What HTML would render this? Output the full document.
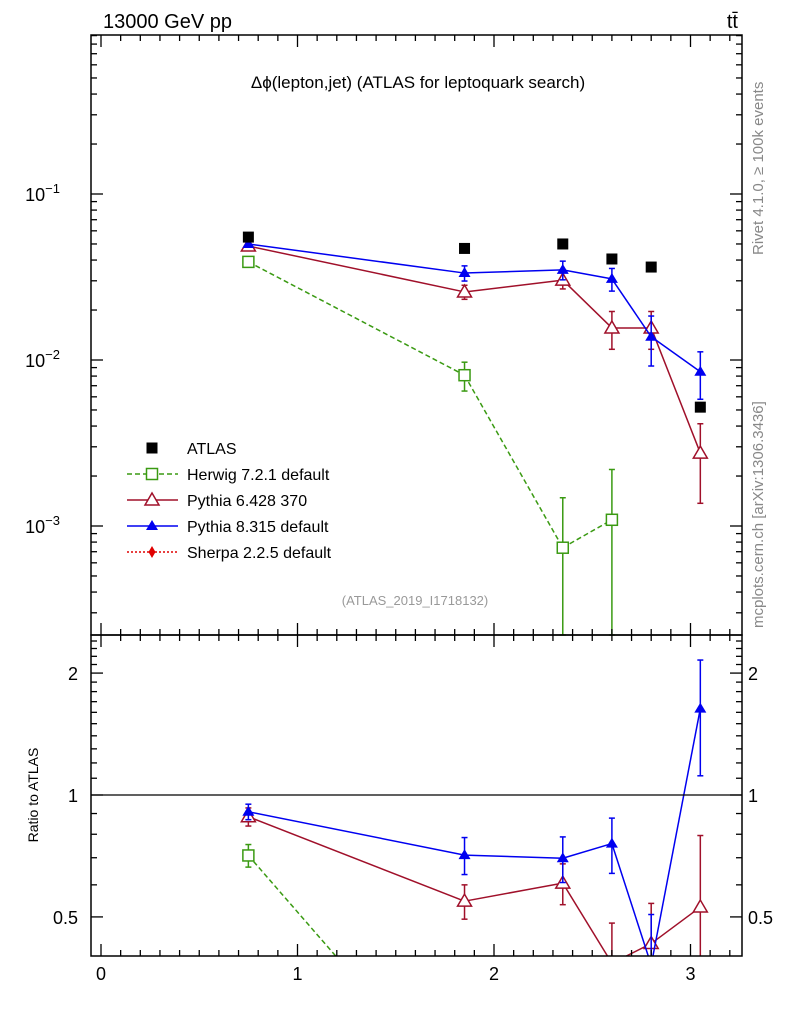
<!DOCTYPE html>
<html><head><meta charset="utf-8">
<style>
html,body{margin:0;background:#fff;overflow:hidden;width:786px;height:1024px;}
svg{display:block;font-family:"Liberation Sans",sans-serif;}
</style></head>
<body>
<svg id="chart" width="786" height="1024" viewBox="0 0 786 1024" xmlns="http://www.w3.org/2000/svg">
<text x="103" y="28" font-size="20">13000 GeV pp</text>
<text x="738" y="28" font-size="20" text-anchor="end">tt̄</text>
<text x="418" y="88" font-size="17" text-anchor="middle">Δϕ(lepton,jet) (ATLAS for leptoquark search)</text>
<text x="415" y="605" font-size="13" fill="#999" text-anchor="middle">(ATLAS_2019_I1718132)</text>
<text transform="translate(763,255) rotate(-90)" font-size="15" fill="#888">Rivet 4.1.0, ≥ 100k events</text>
<text transform="translate(763,628) rotate(-90)" font-size="15" fill="#888">mcplots.cern.ch [arXiv:1306.3436]</text>
<text transform="translate(38,795) rotate(-90)" font-size="14" text-anchor="middle">Ratio to ATLAS</text>
<g id="main"></g>
<g id="ratio"></g>
<g id="legend"></g>
</svg>
<script>
const xs = [0.75, 1.85, 2.35, 2.6, 2.8, 3.05];
const atlas = [0.055, 0.047, 0.050, 0.0406, 0.0363, 0.0052];
const herwigX = [0.75, 1.85, 2.35, 2.6];
const herwig = [0.039, 0.0081, 0.00074, 0.00109];
const herwigErr = [0.0025, 0.0016, 0.00074, 0.0011];
const py6 = [0.0486, 0.0257, 0.0303, 0.0156, 0.0156, 0.00275];
const py6Err = [0.0025, 0.0025, 0.0035, 0.004, 0.004, 0.00138];
const py8 = [0.050, 0.0334, 0.0349, 0.0308, 0.0138, 0.0085];
const py8Err = [0.0022, 0.0035, 0.0045, 0.0048, 0.0046, 0.0027];
const xTicks = [0, 1, 2, 3];
const yTicks = [-3, -2, -1];
const rTicks = [0.5, 1, 2];

const NS = "http://www.w3.org/2000/svg";
const L = 91, R = 742, T = 35, M = 635, B = 956;
const X = v => 101 + v * 196.5;
const Y = v => 194 - (Math.log10(v) + 1) * 166;
const RY = v => 795 - Math.log10(v) * 405;
function mk(parent, tag, attrs) {
  const e = document.createElementNS(NS, tag);
  for (const k in attrs) e.setAttribute(k, attrs[k]);
  parent.appendChild(e); return e;
}
const main = document.getElementById('main');
const ratio = document.getElementById('ratio');
const gm = mk(main, 'g', {});
const gr = mk(ratio, 'g', {});

function frame(g, y0, y1, name) {
  const f = mk(g, 'rect', {x: L, y: y0, width: R - L, height: y1 - y0, fill: 'none', stroke: '#000', 'stroke-width': 1.5});
  
  
  for (let i = 0; i <= 32; i++) {
    const v = i / 10, x = X(v), big = i % 10 === 0, h = big ? 12 : 6;
    if (x > R) break;
    mk(g, 'line', {x1: x, x2: x, y1: y1, y2: y1 - h, stroke: '#000', 'stroke-width': 1.3});
    mk(g, 'line', {x1: x, x2: x, y1: y0, y2: y0 + h, stroke: '#000', 'stroke-width': 1.3});
  }
}
frame(main, T, M, 'main-frame');
frame(ratio, M, B, 'ratio-frame');
for (let d = -4; d <= 0; d++) for (let m = 1; m <= 9; m++) {
  const v = m * Math.pow(10, d), y = Y(v);
  if (y < T || y > M) continue;
  const h = m === 1 ? 12 : 6;
  mk(main, 'line', {x1: L, x2: L + h, y1: y, y2: y, stroke: '#000', 'stroke-width': 1.3});
  mk(main, 'line', {x1: R, x2: R - h, y1: y, y2: y, stroke: '#000', 'stroke-width': 1.3});
}
yTicks.forEach(p => {
  const t = mk(main, 'text', {x: 60, y: Y(Math.pow(10, p)) + 7, 'font-size': 18, 'text-anchor': 'end'});
  
  
  t.textContent = '10';
  const s = mk(t, 'tspan', {dy: -8, 'font-size': 13}); s.textContent = '−' + (-p);
});
[0.4,0.5,0.6,0.7,0.8,0.9,1,1.1,1.2,1.3,1.4,1.5,1.6,1.7,1.8,1.9,2,2.1,2.2,2.3,2.4].forEach(v => {
  const y = RY(v); if (y < M || y > B) return;
  const h = rTicks.includes(v) ? 12 : 6;
  mk(ratio, 'line', {x1: L, x2: L + h, y1: y, y2: y, stroke: '#000', 'stroke-width': 1.3});
  mk(ratio, 'line', {x1: R, x2: R - h, y1: y, y2: y, stroke: '#000', 'stroke-width': 1.3});
});
rTicks.forEach(v => {
  for (const [x, a] of [[78, 'end'], [748, 'start']]) {
    const t = mk(ratio, 'text', {x: x, y: RY(v) + 7, 'font-size': 18, 'text-anchor': a});
    
    
    t.textContent = String(v);
  }
});
xTicks.forEach(v => {
  const t = mk(ratio, 'text', {x: X(v), y: 980, 'font-size': 18, 'text-anchor': 'middle'});
  
  
  t.textContent = String(v);
});
mk(ratio, 'line', {x1: L, x2: R, y1: RY(1), y2: RY(1), stroke: '#000', 'stroke-width': 1.2});

function marker(g, type, x, y, col) {
  if (type === 'sq') return mk(g, 'rect', {x: x - 5.5, y: y - 5.5, width: 11, height: 11, fill: '#000'});
  if (type === 'osq') return mk(g, 'rect', {x: x - 5.5, y: y - 5.5, width: 11, height: 11, fill: '#fff', stroke: col, 'stroke-width': 1.5});
  if (type === 'otri') return mk(g, 'polygon', {points: `${x},${y-7} ${x-7},${y+5} ${x+7},${y+5}`, fill: '#fff', stroke: col, 'stroke-width': 1.5});
  if (type === 'tri') return mk(g, 'polygon', {points: `${x},${y-6} ${x-6},${y+4} ${x+6},${y+4}`, fill: col});
  if (type === 'dia') return mk(g, 'polygon', {points: `${x},${y-6} ${x-3.5},${y} ${x},${y+6} ${x+3.5},${y}`, fill: col});
}
function errbar(g, x, y1, y2, col, top, bot) {
  const a = Math.max(y1, top), b = Math.min(y2, bot);
  if (a >= b) return;
  mk(g, 'line', {x1: x, x2: x, y1: a, y2: b, stroke: col, 'stroke-width': 1.5});
  if (y1 >= top) mk(g, 'line', {x1: x - 3, x2: x + 3, y1: y1, y2: y1, stroke: col, 'stroke-width': 1.5});
  if (y2 <= bot) mk(g, 'line', {x1: x - 3, x2: x + 3, y1: y2, y2: y2, stroke: col, 'stroke-width': 1.5});
}
// clip segment to y range [top, bot]
function seg(g, x1, y1, x2, y2, top, bot, col, dash) {
  let t0 = 0, t1 = 1; const dy = y2 - y1;
  if (dy !== 0) {
    const ta = (top - y1) / dy, tb = (bot - y1) / dy;
    t0 = Math.max(t0, Math.min(ta, tb)); t1 = Math.min(t1, Math.max(ta, tb));
  } else if (y1 < top || y1 > bot) return;
  if (t0 >= t1) return;
  mk(g, 'line', {x1: x1 + (x2 - x1) * t0, y1: y1 + dy * t0, x2: x1 + (x2 - x1) * t1, y2: y1 + dy * t1, stroke: col, 'stroke-width': 1.5, 'stroke-dasharray': dash});
}
const inside = (y, top, bot) => y >= top && y <= bot;
function series(name, px, vals, errs, col, dash, type) {
  const g = mk(gm, 'g', {});  
  const h = mk(gr, 'g', {});  
  for (let i = 0; i < px.length - 1; i++) {
    seg(g, X(px[i]), Y(vals[i]), X(px[i+1]), Y(vals[i+1]), T, M, col, dash);
    seg(h, X(px[i]), RY(vals[i] / atlas[i]), X(px[i+1]), RY(vals[i+1] / atlas[i+1]), M, B, col, dash);
  }
  px.forEach((x, i) => {
    const lo = vals[i] - errs[i];
    errbar(g, X(x), Y(vals[i] + errs[i]), lo > 0 ? Y(lo) : M, col, T, M);
    const r = vals[i] / atlas[i], re = errs[i] / atlas[i];
    errbar(h, X(x), RY(r + re), r - re > 0 ? RY(r - re) : B, col, M, B);
    if (inside(Y(vals[i]), T, M)) {
      const m = marker(g, type, X(x), Y(vals[i]), col);
      
      
    }
    if (inside(RY(r), M + 4, B - 4)) {
      const m2 = marker(h, type, X(x), RY(r), col);
      
      
    }
  });
}
series('herwig', herwigX, herwig, herwigErr, '#3a9a12', '5,3', 'osq');
series('pythia6', xs, py6, py6Err, '#a0102a', '', 'otri');
series('pythia8', xs, py8, py8Err, '#0000f0', '', 'tri');
xs.forEach((x, i) => {
  const m = marker(gm, 'sq', X(x), Y(atlas[i]));
  
  
});

const lg = document.getElementById('legend');
const entries = [
  ['ATLAS', '#000', 'sq', null],
  ['Herwig 7.2.1 default', '#3a9a12', 'osq', '5,3'],
  ['Pythia 6.428 370', '#a0102a', 'otri', ''],
  ['Pythia 8.315 default', '#0000f0', 'tri', ''],
  ['Sherpa 2.2.5 default', '#e00000', 'dia', '2,2']
];
entries.forEach((e, i) => {
  const y = 448 + i * 26;
  const g = mk(lg, 'g', {});
  
  
  if (e[3] !== null) mk(g, 'line', {x1: 127, x2: 178, y1: y, y2: y, stroke: e[1], 'stroke-width': 1.5, 'stroke-dasharray': e[3]});
  marker(g, e[2], 152, y, e[1]);
  const t = mk(g, 'text', {x: 187, y: y + 6, 'font-size': 16}); t.textContent = e[0];
});
</script>
</body></html>
